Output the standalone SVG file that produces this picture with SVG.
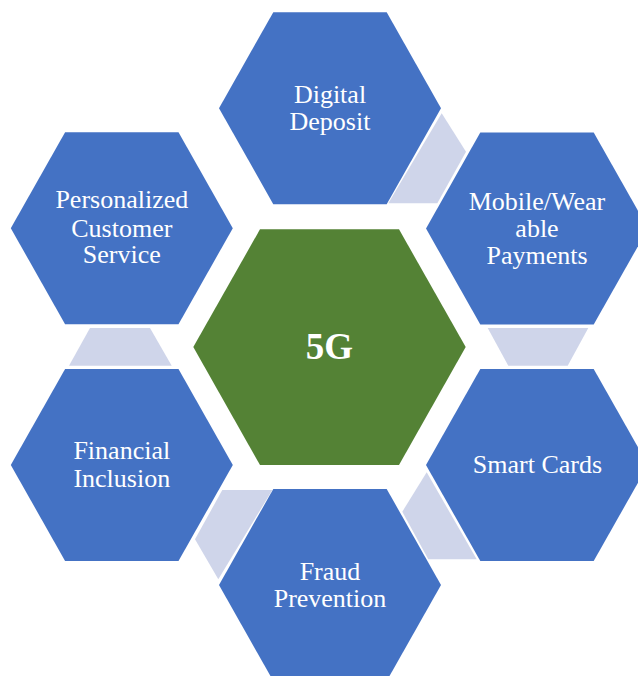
<svg xmlns="http://www.w3.org/2000/svg" xmlns:xlink="http://www.w3.org/1999/xlink" width="638" height="676" viewBox="0 0 638 676">
  <style>
    .hex { fill: #4472C4; }
    .core { fill: #548235; }
    .link { fill: #CFD5EA; }
    .lbl { font-family: "Liberation Serif", "Times New Roman", serif; font-size: 26px; fill: #FFFFFF; text-anchor: middle; }
    .core-lbl { font-family: "Liberation Serif", "Times New Roman", serif; font-size: 37px; font-weight: bold; fill: #FFFFFF; text-anchor: middle; }
  </style>
  <defs>
    <!-- outer hexagon, centred on the origin -->
    <polygon id="hexShape" points="-56.7,-96 56.7,-96 111,0 56.7,96 -56.7,96 -111,0"/>
  </defs>
  <rect width="638" height="676" fill="#FFFFFF"/>

  <!-- connectors between neighbouring hexagons -->
  <g id="connectors">
    <polygon class="link" points="441.7,113.3 466,151.7 437.3,203.3 388.3,203.3"/>
    <polygon class="link" points="487.7,328 588.3,328 567.7,365.7 508.3,365.7"/>
    <polygon class="link" points="426.7,472.3 476.7,559.3 428.3,559.3 402.3,511.7"/>
    <polygon class="link" points="222.3,490 272.3,490 218.3,579.3 195,539.3"/>
    <polygon class="link" points="90,328 150,328 171.7,365.7 69,365.7"/>
  </g>

  <g id="node-5g">
    <polygon class="core" points="260,229.3 399,229.3 465.7,347 399,465 260,465 193.3,347"/>
    <text class="core-lbl" x="329.5" y="358.5">5G</text>
  </g>

  <g id="node-digital-deposit">
    <use xlink:href="#hexShape" class="hex" x="330" y="108.2"/>
    <text class="lbl" x="330" y="102.7">Digital</text>
    <text class="lbl" x="330" y="130">Deposit</text>
  </g>

  <g id="node-mobile-payments">
    <use xlink:href="#hexShape" class="hex" x="537" y="228.5"/>
    <text class="lbl" x="537" y="210">Mobile/Wear</text>
    <text class="lbl" x="537" y="237">able</text>
    <text class="lbl" x="537" y="264">Payments</text>
  </g>

  <g id="node-smart-cards">
    <use xlink:href="#hexShape" class="hex" x="537" y="465"/>
    <text class="lbl" x="537.5" y="473.3">Smart Cards</text>
  </g>

  <g id="node-fraud-prevention">
    <use xlink:href="#hexShape" class="hex" x="330" y="585"/>
    <text class="lbl" x="330" y="580">Fraud</text>
    <text class="lbl" x="330" y="607.3">Prevention</text>
  </g>

  <g id="node-financial-inclusion">
    <use xlink:href="#hexShape" class="hex" x="121.8" y="465"/>
    <text class="lbl" x="121.8" y="459.3">Financial</text>
    <text class="lbl" x="121.8" y="486.7">Inclusion</text>
  </g>

  <g id="node-personalized-service">
    <use xlink:href="#hexShape" class="hex" x="121.8" y="228.2"/>
    <text class="lbl" x="121.8" y="208.3">Personalized</text>
    <text class="lbl" x="121.8" y="236.7">Customer</text>
    <text class="lbl" x="121.8" y="263.3">Service</text>
  </g>
</svg>
